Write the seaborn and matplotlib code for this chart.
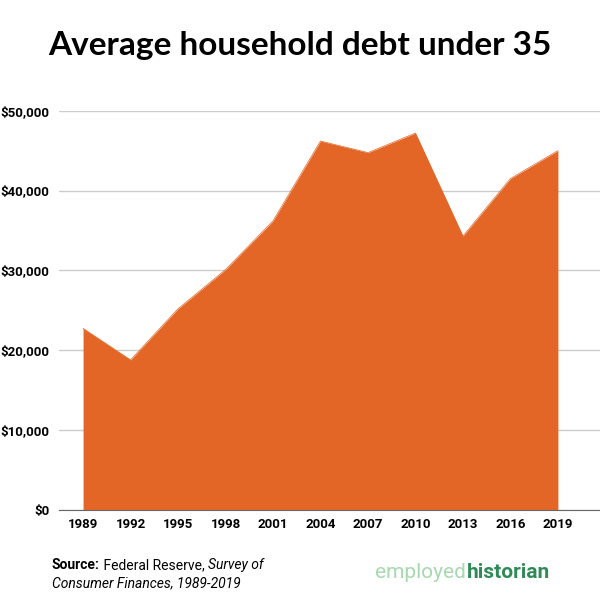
import matplotlib
matplotlib.use("Agg")
import matplotlib.pyplot as plt
import seaborn as sns
import pandas as pd

years = [1989, 1992, 1995, 1998, 2001, 2004, 2007, 2010, 2013, 2016, 2019]
debt = [22750, 18800, 25200, 30100, 36200, 46200, 44750, 47200, 34300, 41500, 45000]
yticks = [0, 10000, 20000, 30000, 40000, 50000]

sns.set_style("white")
plt.rcParams['font.family'] = ['Roboto', 'DejaVu Sans']
plt.rcParams['text.color'] = 'black'
plt.rcParams['xtick.color'] = 'black'
plt.rcParams['ytick.color'] = 'black'
df = pd.DataFrame({"year": years, "debt": debt})

fig = plt.figure(figsize=(6, 6), dpi=100)
ax = fig.add_axes([59/600, 90/600, 541/600, 399.3/600])
color = "#E36626"
ax.fill_between(df["year"], df["debt"], 0, color=color, linewidth=0, zorder=2)
sns.lineplot(data=df, x="year", y="debt", ax=ax, color=color, linewidth=0.5, zorder=2)
ax.set_xlim(1987.48, 2021.66)
ax.set_ylim(0, 50000)
ax.set_yticks(yticks)
ax.set_yticklabels([f"${v:,}" for v in yticks], fontsize=9.5, fontweight="bold")
ax.set_xticks(years)
ax.set_xticklabels([str(y) for y in years], fontsize=9.5, fontweight="bold")
ax.tick_params(axis='y', pad=7, length=0)
ax.tick_params(axis='x', pad=6, length=0)
ax.grid(axis='y', color="#cccccc", linewidth=1, zorder=0)
ax.set_axisbelow(True)
for s in ["top", "right", "left"]:
    ax.spines[s].set_visible(False)
ax.spines["bottom"].set_color("#666666")
ax.set_xlabel("")
ax.set_ylabel("")

fig.text(0.5, 0.925, "Average household debt under 35", ha="center", va="center",
         fontsize=24, fontweight="bold", color="black", family=["Lato", "DejaVu Sans"])
fs = 10
t1 = fig.text(52/600, 1 - 565/600, "Source:", fontsize=fs, fontweight="bold", va="center")
t2 = fig.text(0, 0, " Federal Reserve, ", fontsize=fs, va="center")
t3 = fig.text(0, 0, "Survey of", fontsize=fs, style="italic", va="center")
fig.canvas.draw()
r = fig.canvas.get_renderer()
def right(t):
    bb = t.get_window_extent(r)
    return bb.x1 / fig.bbox.width
y1 = 1 - 565/600
t2.set_position((right(t1), y1))
fig.canvas.draw()
t3.set_position((right(t2), y1))
fig.text(52/600, 1 - 583/600, "Consumer Finances, 1989-2019", fontsize=fs, style="italic", va="center")
fig.text(375/600, 1 - 572/600, "employed", fontsize=15, color="#a8d8b0", va="center")
fig.text(467/600, 1 - 572/600, "historian", fontsize=15, color="#2e8b57", fontweight="bold", va="center")
fig.savefig("out.png", dpi=100, facecolor="white")
